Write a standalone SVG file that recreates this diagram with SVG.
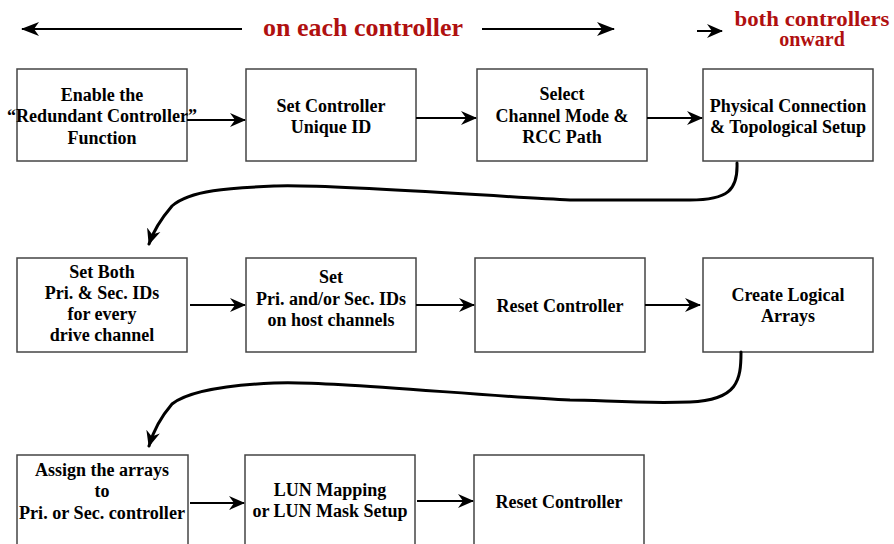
<svg xmlns="http://www.w3.org/2000/svg" width="894" height="544" viewBox="0 0 894 544">
<defs>
<marker id="ah" markerWidth="16" markerHeight="16" refX="15" refY="8" orient="auto" markerUnits="userSpaceOnUse">
<path d="M0,1 L16,8 L0,15 L5,8 z" fill="#000"/>
</marker>
<marker id="ahs" markerWidth="18" markerHeight="16" refX="17" refY="8" orient="auto" markerUnits="userSpaceOnUse">
<path d="M0,1 L18,8 L0,15 L5,8 z" fill="#000"/>
</marker>
<style>
.box{fill:#fff;stroke:#444;stroke-width:1.5}
.t{font-weight:bold;font-size:18px;fill:#000;text-anchor:middle}
.red{font-weight:bold;fill:#b01010;text-anchor:middle}
.ln{stroke:#000;stroke-width:2;fill:none}
.cv{stroke:#000;stroke-width:3;fill:none;stroke-linecap:round}
</style>
</defs>
<rect width="894" height="544" fill="#fff"/>
<g font-family="Liberation Serif, DejaVu Serif, serif">
<g id="header">
<line class="ln" x1="242" y1="29" x2="22" y2="29" marker-end="url(#ahs)"/>
<text class="red" x="363" y="36" font-size="25" textLength="200" lengthAdjust="spacingAndGlyphs">on each controller</text>
<line class="ln" x1="482" y1="29" x2="614" y2="29" marker-end="url(#ahs)"/>
<line class="ln" x1="697" y1="31" x2="722" y2="31" marker-end="url(#ah)"/>
<text class="red" x="812" y="26" font-size="20" textLength="155" lengthAdjust="spacingAndGlyphs">both controllers</text>
<text class="red" x="812" y="46" font-size="20">onward</text>
</g>

<g id="n1"><rect class="box" x="17" y="69" width="170" height="92"/>
<text class="t" x="102" y="101">Enable the</text>
<text class="t" x="102" y="122" textLength="190" lengthAdjust="spacingAndGlyphs">“Redundant Controller”</text>
<text class="t" x="102" y="144">Function</text></g>
<g id="n2"><rect class="box" x="246" y="69" width="170" height="92"/>
<text class="t" x="331" y="112">Set Controller</text>
<text class="t" x="331" y="133">Unique ID</text></g>
<g id="n3"><rect class="box" x="477" y="69" width="170" height="92"/>
<text class="t" x="562" y="100">Select</text>
<text class="t" x="562" y="122">Channel Mode &amp;</text>
<text class="t" x="562" y="143">RCC Path</text></g>
<g id="n4"><rect class="box" x="703" y="69" width="170" height="92"/>
<text class="t" x="788" y="112">Physical Connection</text>
<text class="t" x="788" y="133">&amp; Topological Setup</text></g>

<g id="n5"><rect class="box" x="17" y="258" width="170" height="94"/>
<text class="t" x="102" y="278">Set Both</text>
<text class="t" x="102" y="299">Pri. &amp; Sec. IDs</text>
<text class="t" x="102" y="320">for every</text>
<text class="t" x="102" y="341">drive channel</text></g>
<g id="n6"><rect class="box" x="246" y="258" width="170" height="94"/>
<text class="t" x="331" y="283">Set</text>
<text class="t" x="331" y="305">Pri. and/or Sec. IDs</text>
<text class="t" x="331" y="326">on host channels</text></g>
<g id="n7"><rect class="box" x="475" y="258" width="170" height="94"/>
<text class="t" x="560" y="312">Reset Controller</text></g>
<g id="n8"><rect class="box" x="703" y="258" width="170" height="94"/>
<text class="t" x="788" y="301">Create Logical</text>
<text class="t" x="788" y="322">Arrays</text></g>

<g id="n9"><rect class="box" x="17" y="455" width="171" height="110"/>
<text class="t" x="102" y="476">Assign the arrays</text>
<text class="t" x="102" y="497">to</text>
<text class="t" x="102" y="519" textLength="166" lengthAdjust="spacingAndGlyphs">Pri. or Sec. controller</text></g>
<g id="n10"><rect class="box" x="245" y="455" width="170" height="110"/>
<text class="t" x="330" y="496">LUN Mapping</text>
<text class="t" x="330" y="517">or LUN Mask Setup</text></g>
<g id="n11"><rect class="box" x="474" y="455" width="170" height="110"/>
<text class="t" x="559" y="508">Reset Controller</text></g>
</g>

<g id="connectors">
<line class="ln" x1="187" y1="120" x2="245" y2="120" marker-end="url(#ah)"/>
<line class="ln" x1="416" y1="118" x2="476" y2="118" marker-end="url(#ah)"/>
<line class="ln" x1="647" y1="118" x2="702" y2="118" marker-end="url(#ah)"/>
<line class="ln" x1="190" y1="305" x2="245" y2="305" marker-end="url(#ah)"/>
<line class="ln" x1="416" y1="305" x2="474" y2="305" marker-end="url(#ah)"/>
<line class="ln" x1="645" y1="305" x2="700" y2="305" marker-end="url(#ah)"/>
<line class="ln" x1="190" y1="503" x2="244" y2="503" marker-end="url(#ah)"/>
<line class="ln" x1="417" y1="501" x2="473" y2="501" marker-end="url(#ah)"/>
<path class="cv" d="M737,163 C738,190 728,200 690,200 C640,200 600,200 570,200 C500,197 320,183 274,186 C230,188 190,190 172,206 C160,220 153,232 149,244" marker-end="url(#ah)"/>
<path class="cv" d="M741,352 C741,380 738,400 690,402 C640,404 600,400 570,400 C480,396 320,380 274,383 C230,385 190,390 172,404 C160,418 153,432 149,446" marker-end="url(#ah)"/>
</g>
</svg>
